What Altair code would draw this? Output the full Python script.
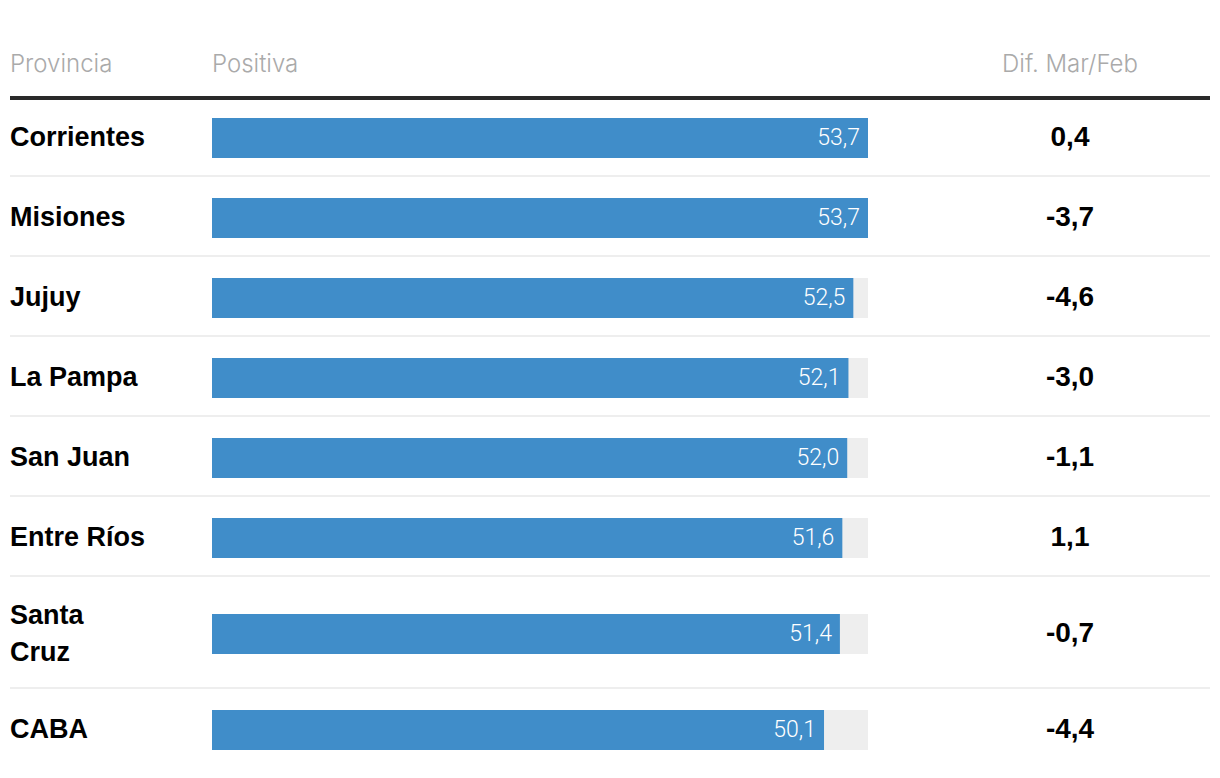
import altair as alt
import pandas as pd

provincias = ["Corrientes", "Misiones", "Jujuy", "La Pampa", "San Juan",
              "Entre Ríos", "Santa Cruz", "CABA"]
positiva = [53.7, 53.7, 52.5, 52.1, 52.0, 51.6, 51.4, 50.1]
dif_mar_feb = [0.4, -3.7, -4.6, -3.0, -1.1, 1.1, -0.7, -4.4]
headers = ["Provincia", "Positiva", "Dif. Mar/Feb"]
wrapped = {"Santa Cruz": "Santa\nCruz"}

W = 1200
BAR_X0, BAR_X1 = 202, 858
DIFF_X = 1060
vmax = max(positiva)
xscale = alt.Scale(domain=[0, vmax], range=[BAR_X0, BAR_X1])

LABEL_FONT = "Liberation Sans"
NUM_FONT = "Roboto"
HEAD_FONT = "Inter"
LINE_H = 37

def fmt(v):
    return f"{v:.1f}".replace(".", ",")

HH = 92
def head_text(txt, x, align):
    return alt.Chart(pd.DataFrame({"h": [txt]})).mark_text(
        align=align, baseline="middle", font=HEAD_FONT, fontWeight=300,
        fontSize=24, color="#aaaaaa").encode(x=alt.value(x), y=alt.value(57), text="h:N")

h1 = head_text(headers[0], 0, "left")
h2 = head_text(headers[1], BAR_X0, "left")
h3 = head_text(headers[2], DIFF_X, "center")
hline = alt.Chart(pd.DataFrame({"h": [0]})).mark_rule(
    color="#2a2a2a", strokeWidth=4).encode(
    x=alt.value(0), x2=alt.value(W), y=alt.value(90))
header = alt.layer(h1, h2, h3, hline).properties(width=W, height=HH)

panels = [header]
n = len(provincias)
for i, (p, v, d) in enumerate(zip(provincias, positiva, dif_mar_feb)):
    label = wrapped.get(p, p)
    lines = label.count("\n") + 1
    H = 80 if lines == 1 else 112
    sep = H - 4
    cy = sep / 2
    df = pd.DataFrame({
        "prov": [label], "val": [v], "full": [vmax], "zero": [0.0],
        "vlab": [fmt(v)], "dlab": [fmt(d)],
    })
    base = alt.Chart(df)
    bg = base.mark_bar(color="#eeeeee").encode(
        x=alt.X("zero:Q", scale=xscale, axis=None), x2="full:Q",
        y=alt.value(cy - 20), y2=alt.value(cy + 20))
    bar = base.mark_bar(color="#408dc9").encode(
        x=alt.X("zero:Q", scale=xscale, axis=None), x2="val:Q",
        y=alt.value(cy - 20), y2=alt.value(cy + 20))
    vtxt = base.mark_text(align="right", baseline="middle", dx=-8,
                          font=NUM_FONT, fontWeight=300, fontSize=23,
                          color="white").encode(
        x=alt.X("val:Q", scale=xscale, axis=None), y=alt.value(cy), text="vlab:N")
    ptxt = base.mark_text(align="left", baseline="middle", font=LABEL_FONT,
                          fontWeight="bold", fontSize=27, color="black",
                          lineBreak="\n", lineHeight=LINE_H,
                          dy=-(lines - 1) * LINE_H / 2).encode(
        x=alt.value(0), y=alt.value(cy), text="prov:N")
    dtxt = base.mark_text(align="center", baseline="middle", font=LABEL_FONT,
                          fontWeight="bold", fontSize=28, color="black").encode(
        x=alt.value(DIFF_X), y=alt.value(cy), text="dlab:N")
    layers = [bg, bar, vtxt, ptxt, dtxt]
    if i < n - 1:
        layers.append(base.mark_rule(color="#eeeeee", strokeWidth=2).encode(
            x=alt.value(0), x2=alt.value(W), y=alt.value(sep)))
    panels.append(alt.layer(*layers).properties(width=W, height=H))

chart = alt.vconcat(*panels, spacing=0).properties(
    padding={"left": 0, "top": 0, "right": 0, "bottom": 0}
).configure_view(stroke=None).configure_concat(spacing=0)

chart.save("out.html", embed_options={"renderer": "svg", "actions": False})
